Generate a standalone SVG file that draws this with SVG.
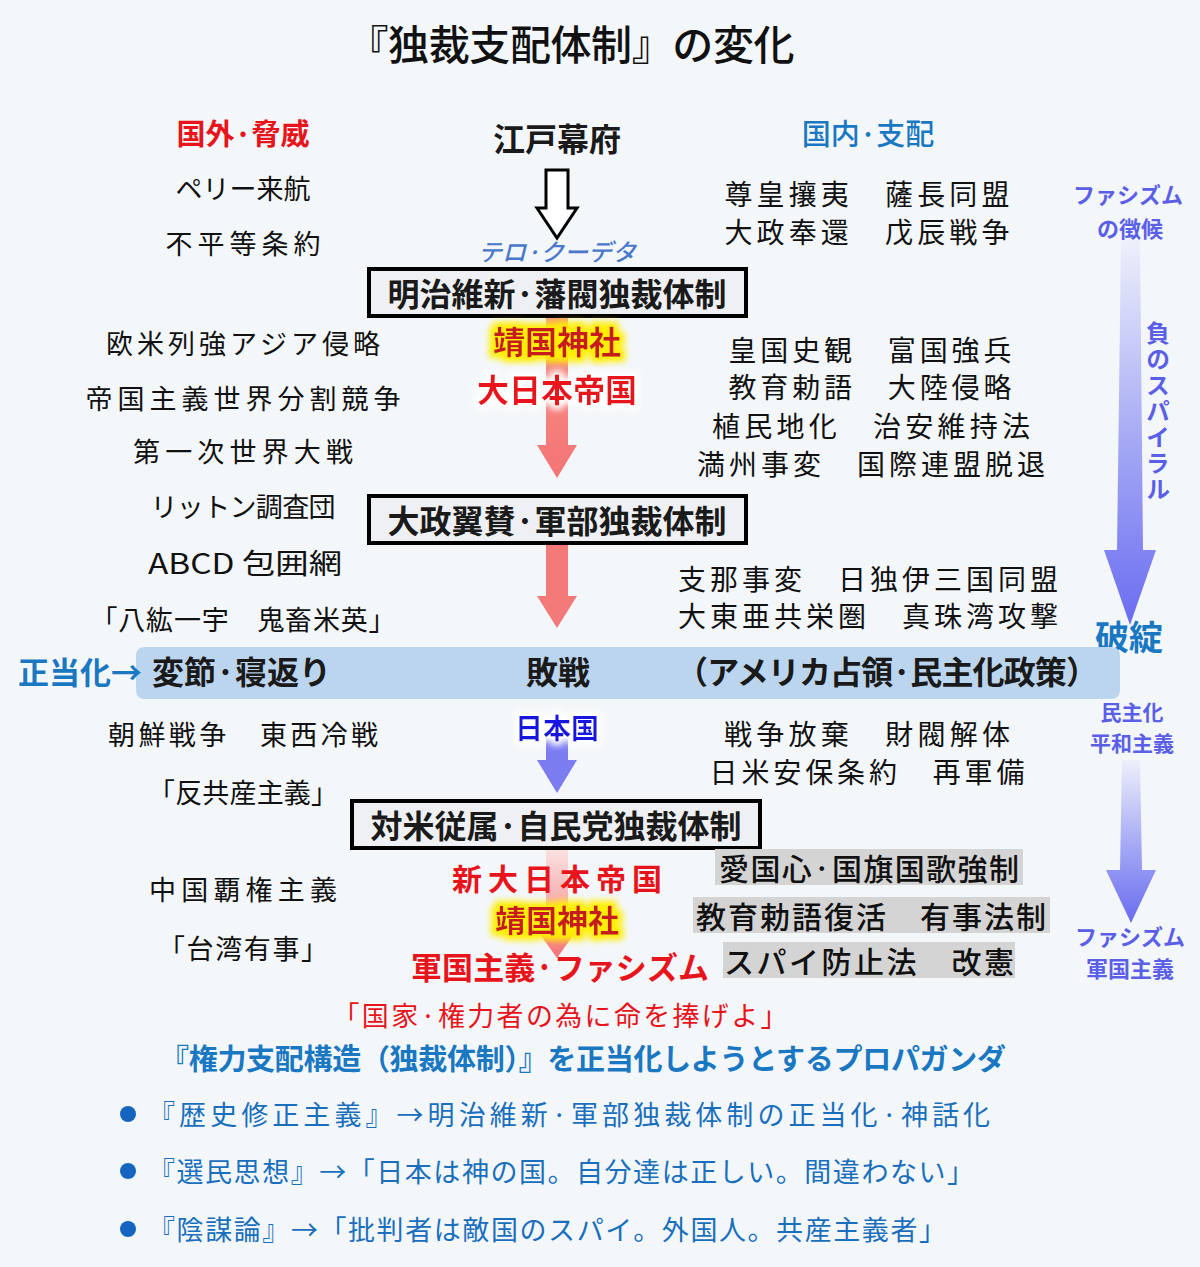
<svg xmlns="http://www.w3.org/2000/svg" width="1200" height="1267" viewBox="0 0 1200 1267">
<defs>
<style>
text{font-family:"Noto Sans CJK JP","Noto Sans CJK SC",sans-serif;dominant-baseline:central;text-anchor:middle}
.t28{font-size:27px;fill:#111}
.r30{font-size:28px;fill:#111}
.box{fill:#eef0f3;stroke:#000;stroke-width:4}
.bt{font-size:32px;font-weight:700;fill:#1a1a1a}
.pb{font-size:22px;font-weight:700;fill:#5b5fe8}
.blue{fill:#1a78c2;font-weight:700}
.red{fill:#e8141c;font-weight:700}
.grey{fill:#d4d4d4}
.gt{font-size:30px;font-weight:500;fill:#111}
.bl{font-size:27px;fill:#1a6fbd;text-anchor:start}
.yas{font-size:31px;font-weight:700;fill:#c81e1e}
</style>
<linearGradient id="gRight" x1="0" y1="0" x2="0" y2="1">
<stop offset="0" stop-color="#eef0fb"/><stop offset="0.5" stop-color="#a8acf5"/><stop offset="1" stop-color="#6a6cf0"/>
</linearGradient>
<linearGradient id="gRed" x1="0" y1="0" x2="0" y2="1">
<stop offset="0" stop-color="#f9a070"/><stop offset="0.3" stop-color="#f58a80"/><stop offset="1" stop-color="#f47476"/>
</linearGradient>
<linearGradient id="gRedFade" x1="0" y1="0" x2="0" y2="1">
<stop offset="0" stop-color="#fbe3e3"/><stop offset="1" stop-color="#f47476"/>
</linearGradient>
<filter id="glowY" x="-20%" y="-50%" width="140%" height="200%">
<feMorphology in="SourceAlpha" operator="dilate" radius="5" result="d"/>
<feFlood flood-color="#ffee00"/>
<feComposite in2="d" operator="in"/>
<feGaussianBlur stdDeviation="3"/>
<feMerge><feMergeNode/><feMergeNode in="SourceGraphic"/></feMerge>
</filter>
<filter id="glowW" x="-20%" y="-50%" width="140%" height="200%">
<feMorphology in="SourceAlpha" operator="dilate" radius="4" result="d"/>
<feFlood flood-color="#ffffff"/>
<feComposite in2="d" operator="in"/>
<feGaussianBlur stdDeviation="3"/>
<feMerge><feMergeNode/><feMergeNode in="SourceGraphic"/></feMerge>
</filter>
</defs>
<rect width="1200" height="1267" fill="#f4f7fa"/>

<text x="571" y="42" style="font-size:41px;font-weight:500;fill:#111" textLength="447">『独裁支配体制』の変化</text>

<g id="labels-top">
<text x="243" y="132" class="red" style="font-size:29px">国外·脅威</text>
<text x="557" y="137" style="font-size:32px;font-weight:700;fill:#1a1a1a">江戸幕府</text>
<text x="868" y="132" class="blue" style="font-size:29px;font-weight:500">国内·支配</text>
</g>

<g id="connectors">
<polygon points="546,170 568,170 568,208 577,208 557,238 537,208 546,208" fill="#fff" stroke="#000" stroke-width="3"/>
<polygon points="546,316 568,316 568,445 577,445 557,478 537,445 546,445" fill="url(#gRed)"/>
<polygon points="546,543 568,543 568,596 577,596 557,628 537,596 546,596" fill="#f47a7a"/>
<polygon points="546,738 568,738 568,760 577,760 557,793 537,760 546,760" fill="#7a7cf0"/>
<polygon points="546,848 568,848 568,930 577,930 557,958 537,930 546,930" fill="url(#gRedFade)"/>
<polygon points="1121,240 1140,240 1143,550 1156,550 1130,625 1104,550 1117,550" fill="url(#gRight)"/>
<polygon points="1122,760 1140,760 1142,870 1156,870 1131,923 1106,870 1120,870" fill="url(#gRight)"/>
</g>

<text x="557" y="250" style="font-size:24px;font-weight:500;fill:#4a78cc;font-style:italic">テロ·クーデタ</text>

<g id="box1">
<rect x="369" y="269" width="377" height="47" class="box"/>
<text x="557" y="292" class="bt">明治維新·藩閥独裁体制</text>
</g>
<g id="box2">
<rect x="369" y="496" width="377" height="47" class="box"/>
<text x="557" y="519" class="bt">大政翼賛·軍部独裁体制</text>
</g>
<g id="box3">
<rect x="352" y="801" width="408" height="47" class="box"/>
<text x="556" y="824" class="bt">対米従属·自民党独裁体制</text>
</g>

<g id="left">
<text x="243" y="187" class="t28">ペリー来航</text>
<text x="243" y="242" class="t28" textLength="155">不平等条約</text>
<text x="243" y="342" class="t28" textLength="274">欧米列強アジア侵略</text>
<text x="243" y="397" class="t28" textLength="315">帝国主義世界分割競争</text>
<text x="243" y="450" class="t28" textLength="220">第一次世界大戦</text>
<text x="243" y="505" class="t28" textLength="185">リットン調査団</text>
<text x="245" y="562" class="t28" style="font-size:28px" textLength="194" lengthAdjust="spacingAndGlyphs">ABCD 包囲網</text>
<text x="243" y="618" class="t28" textLength="305">「八紘一宇　鬼畜米英」</text>
<text x="243" y="733" class="t28" textLength="270">朝鮮戦争　東西冷戦</text>
<text x="243" y="791" class="t28" textLength="190">「反共産主義」</text>
<text x="243" y="888" class="t28" textLength="188">中国覇権主義</text>
<text x="243" y="947" class="t28" textLength="170">「台湾有事」</text>
</g>

<g id="right">
<text x="867" y="193" class="r30" textLength="285">尊皇攘夷　薩長同盟</text>
<text x="867" y="231" class="r30" textLength="285">大政奉還　戊辰戦争</text>
<text x="870" y="349" class="r30" textLength="283">皇国史観　富国強兵</text>
<text x="870" y="386" class="r30" textLength="283">教育勅語　大陸侵略</text>
<text x="871" y="425" class="r30" textLength="318">植民地化　治安維持法</text>
<text x="871" y="463" class="r30" textLength="348">満州事変　国際連盟脱退</text>
<text x="868" y="578" class="r30" textLength="380">支那事変　日独伊三国同盟</text>
<text x="868" y="615" class="r30" textLength="380">大東亜共栄圏　真珠湾攻撃</text>
<text x="867" y="733" class="r30" textLength="286">戦争放棄　財閥解体</text>
<text x="867" y="771" class="r30" textLength="315">日米安保条約　再軍備</text>
</g>

<g id="side">
<text x="1128" y="193" class="pb">ファシズム</text>
<text x="1130" y="227" class="pb">の徴候</text>
<text x="1158" y="412" class="pb" style="font-size:24px;writing-mode:vertical-rl;glyph-orientation-vertical:0;text-orientation:upright;letter-spacing:2px">負のスパイラル</text>
<text x="1129" y="635" class="blue" style="font-size:34px">破綻</text>
<text x="1132" y="711" class="pb" style="font-size:21px">民主化</text>
<text x="1132" y="742" class="pb" style="font-size:21px">平和主義</text>
<text x="1130" y="935" class="pb">ファシズム</text>
<text x="1130" y="967" class="pb">軍国主義</text>
</g>

<g id="center-labels">
<text x="557" y="340" class="yas" style="font-size:32px" filter="url(#glowY)">靖国神社</text>
<text x="557" y="388" class="red" style="font-size:32px" filter="url(#glowW)">大日本帝国</text>
<text x="557" y="727" style="font-size:28px;font-weight:700;fill:#1515e0" filter="url(#glowW)">日本国</text>
<text x="557" y="877" class="red" style="font-size:30px" textLength="210">新大日本帝国</text>
<text x="557" y="918" class="yas" filter="url(#glowY)">靖国神社</text>
<text x="560" y="965" class="red" style="font-size:31px" textLength="298">軍国主義·ファシズム</text>
</g>

<g id="banner">
<rect x="136" y="647" width="984" height="52" rx="8" fill="#bcd5ee"/>
<text x="152" y="670" class="bt" style="text-anchor:start">変節·寝返り</text>
<text x="558" y="670" class="bt">敗戦</text>
<text x="887" y="670" class="bt" textLength="422">（アメリカ占領·民主化政策）</text>
<text x="80" y="670" class="blue" style="font-size:31px">正当化→</text>
</g>

<g id="grey-items">
<rect x="715" y="849" width="308" height="36" class="grey"/>
<text x="869" y="867" class="gt" textLength="300">愛国心·国旗国歌強制</text>
<rect x="693" y="897" width="357" height="36" class="grey"/>
<text x="871" y="915" class="gt" textLength="350">教育勅語復活　有事法制</text>
<rect x="723" y="942" width="292" height="36" class="grey"/>
<text x="869" y="960" class="gt" textLength="290">スパイ防止法　改憲</text>
</g>

<g id="bottom">
<text x="560" y="1014" style="font-size:27px;fill:#e8141c" textLength="455">「国家·権力者の為に命を捧げよ」</text>
<text x="583" y="1057" class="blue" style="font-size:29px" textLength="846">『権力支配構造（独裁体制）』を正当化しようとするプロパガンダ</text>
<circle cx="128" cy="1114" r="8" fill="#1565c0"/>
<text x="148" y="1113" class="bl" textLength="842">『歴史修正主義』→明治維新·軍部独裁体制の正当化·神話化</text>
<circle cx="128" cy="1171" r="8" fill="#1565c0"/>
<text x="148" y="1170" class="bl" textLength="826">『選民思想』→「日本は神の国。自分達は正しい。間違わない」</text>
<circle cx="128" cy="1229" r="8" fill="#1565c0"/>
<text x="148" y="1228" class="bl" textLength="798">『陰謀論』→「批判者は敵国のスパイ。外国人。共産主義者」</text>
</g>
</svg>
